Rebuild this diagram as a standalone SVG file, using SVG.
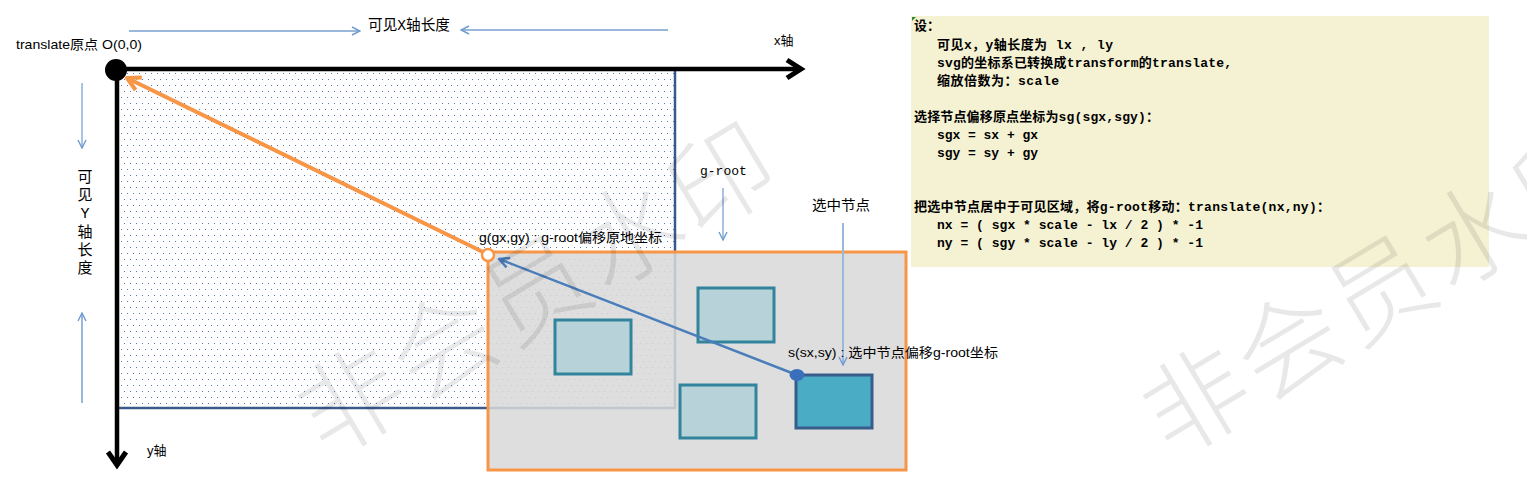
<svg xmlns="http://www.w3.org/2000/svg" width="1527" height="497" viewBox="0 0 1527 497">
<style>
.lbl{font-family:"Liberation Sans","Noto Sans CJK SC",sans-serif;font-size:13px;fill:#000}
.song{font-family:"Liberation Mono","Noto Sans CJK SC",monospace;font-size:14px;fill:#000}
.mono{font-family:"Liberation Mono","Noto Sans CJK SC",monospace;font-size:13px;fill:#000}
.note{font-family:"Liberation Mono","Noto Sans CJK SC",monospace;font-size:13px;font-weight:bold;fill:#000}
.wm{font-family:"Noto Sans CJK SC",sans-serif;font-size:104px;font-weight:300;fill:#000;fill-opacity:0.09;letter-spacing:4px}
.node{fill:#b7d3d9;stroke:#31849b;stroke-width:3}
.thin{stroke:#6f9bd0;stroke-width:1.2;fill:none}
.light{stroke:#9ab7dc;stroke-width:2;fill:none}
</style>
<defs>
<pattern id="dots" width="6" height="12" patternUnits="userSpaceOnUse">
<rect x="1" y="1" width="1" height="1" fill="#5876b4"/>
<rect x="4" y="7" width="1" height="1" fill="#5876b4"/>
</pattern>
<marker id="mLight" viewBox="0 0 10 10" refX="9" refY="5" markerWidth="10" markerHeight="10" markerUnits="userSpaceOnUse" orient="auto">
<path d="M1,1 L9,5 L1,9" fill="none" stroke="#6f9bd0" stroke-width="1.4"/>
</marker>
<marker id="mOrange" viewBox="0 0 18 18" refX="15" refY="9" markerWidth="18" markerHeight="18" markerUnits="userSpaceOnUse" orient="auto">
<path d="M2,2 L15,9 L2,16" fill="none" stroke="#f79646" stroke-width="4" stroke-linejoin="round"/>
</marker>
<marker id="mBlue" viewBox="0 0 14 14" refX="12" refY="7" markerWidth="14" markerHeight="14" markerUnits="userSpaceOnUse" orient="auto">
<path d="M2,2 L12,7 L2,12" fill="none" stroke="#4a7ebb" stroke-width="2.5" stroke-linejoin="round"/>
</marker>
</defs>
<rect width="1527" height="497" fill="#fff"/>

<g id="note-box">
<rect x="911" y="16" width="578" height="251" fill="#f5f2d3"/>
<path d="M912,17 L916,17 L912,21 Z" fill="#2e8b2e"/>
<text class="note" x="914" y="30">设：</text>
<text class="note" x="937" y="49" textLength="176" lengthAdjust="spacing">可见x，y轴长度为 lx , ly</text>
<text class="note" x="937" y="67" textLength="295" lengthAdjust="spacing">svg的坐标系已转换成transform的translate,</text>
<text class="note" x="937" y="85" textLength="122" lengthAdjust="spacing">缩放倍数为：scale</text>
<text class="note" x="914" y="121" textLength="245" lengthAdjust="spacing">选择节点偏移原点坐标为sg(sgx,sgy)：</text>
<text class="note" x="937" y="139" textLength="101" lengthAdjust="spacing">sgx = sx + gx</text>
<text class="note" x="937" y="157" textLength="101" lengthAdjust="spacing">sgy = sy + gy</text>
<text class="note" x="914" y="211" textLength="416" lengthAdjust="spacing">把选中节点居中于可见区域，将g-root移动：translate(nx,ny)：</text>
<text class="note" x="937" y="229" textLength="266" lengthAdjust="spacing">nx = ( sgx * scale - lx / 2 ) * -1</text>
<text class="note" x="937" y="247" textLength="266" lengthAdjust="spacing">ny = ( sgy * scale - ly / 2 ) * -1</text>
</g>

<g id="visible-area">
<rect x="118" y="70" width="557" height="338" fill="url(#dots)"/>
<path d="M675,70 L675,408 L118,408" fill="none" stroke="#3b5a8c" stroke-width="2.5"/>
</g>

<g id="g-root">
<rect x="488" y="252" width="418" height="218" fill="#d9d9d9" fill-opacity="0.86" stroke="#f79646" stroke-width="3"/>
</g>

<g id="node-1"><rect class="node" x="555" y="320" width="76" height="54"/></g>
<g id="node-2"><rect class="node" x="698" y="288" width="76" height="54"/></g>
<g id="node-3"><rect class="node" x="680" y="385" width="76" height="53"/></g>
<g id="node-selected"><rect x="796" y="375" width="76" height="53" fill="#4bacc6" stroke="#385d8a" stroke-width="3"/></g>

<g id="axes">
<line x1="116" y1="69" x2="800" y2="69" stroke="#000" stroke-width="4.5"/>
<path d="M787,60 L801,69 L787,78" fill="none" stroke="#000" stroke-width="5" stroke-linejoin="miter"/>
<line x1="117" y1="70" x2="117" y2="464" stroke="#000" stroke-width="4.5"/>
<path d="M108,452 L117,465 L126,452" fill="none" stroke="#000" stroke-width="5" stroke-linejoin="miter"/>
<circle cx="116" cy="70" r="11" fill="#000"/>
</g>

<g id="connectors">
<line x1="129" y1="31" x2="360" y2="31" class="light" marker-end="url(#mLight)"/>
<line x1="668" y1="30" x2="461" y2="30" class="light" marker-end="url(#mLight)"/>
<line x1="82" y1="83" x2="82" y2="148" class="thin" marker-end="url(#mLight)"/>
<line x1="82" y1="403" x2="82" y2="313" class="light" marker-end="url(#mLight)"/>
<line x1="723" y1="188" x2="723" y2="240" class="thin" marker-end="url(#mLight)"/>
<line x1="843" y1="223" x2="843" y2="365" class="light" marker-end="url(#mLight)"/>
<line x1="483" y1="252" x2="127" y2="78" stroke="#f79646" stroke-width="4" marker-end="url(#mOrange)"/>
<circle cx="488" cy="255" r="6" fill="#fff" stroke="#f79646" stroke-width="2.5"/>
<line x1="797" y1="375" x2="499" y2="259" stroke="#4a7ebb" stroke-width="2.5" marker-end="url(#mBlue)"/>
<ellipse cx="797" cy="375" rx="7.5" ry="6" fill="#3a70bb"/>
</g>

<g id="labels">
<text class="lbl" x="16" y="49" textLength="126" lengthAdjust="spacingAndGlyphs">translate原点  O(0,0)</text>
<text class="song" x="368" y="30" textLength="82" lengthAdjust="spacingAndGlyphs" style="font-size:15px">可见X轴长度</text>
<text class="lbl" x="774" y="45">x轴</text>
<text class="lbl" x="147" y="455">y轴</text>
<g class="song" style="font-size:15px" text-anchor="middle">
<text x="85" y="182">可</text>
<text x="85" y="200">见</text>
<text x="85" y="218">Y</text>
<text x="85" y="237">轴</text>
<text x="85" y="255">长</text>
<text x="85" y="273">度</text>
</g>
<text class="mono" x="700" y="175">g-root</text>
<text class="song" x="812" y="210" textLength="58" lengthAdjust="spacingAndGlyphs">选中节点</text>
<text class="lbl" x="479" y="242" textLength="183" lengthAdjust="spacingAndGlyphs">g(gx,gy) : g-root偏移原地坐标</text>
<text class="lbl" x="788" y="357" textLength="210" lengthAdjust="spacingAndGlyphs">s(sx,sy) : 选中节点偏移g-root坐标</text>
</g>

<g id="watermarks">
<text class="wm" transform="translate(352,402) rotate(-31)" x="-52" y="36">非会员水印</text>
<text class="wm" transform="translate(1197,402) rotate(-31)" x="-52" y="36">非会员水印</text>
</g>
</svg>
